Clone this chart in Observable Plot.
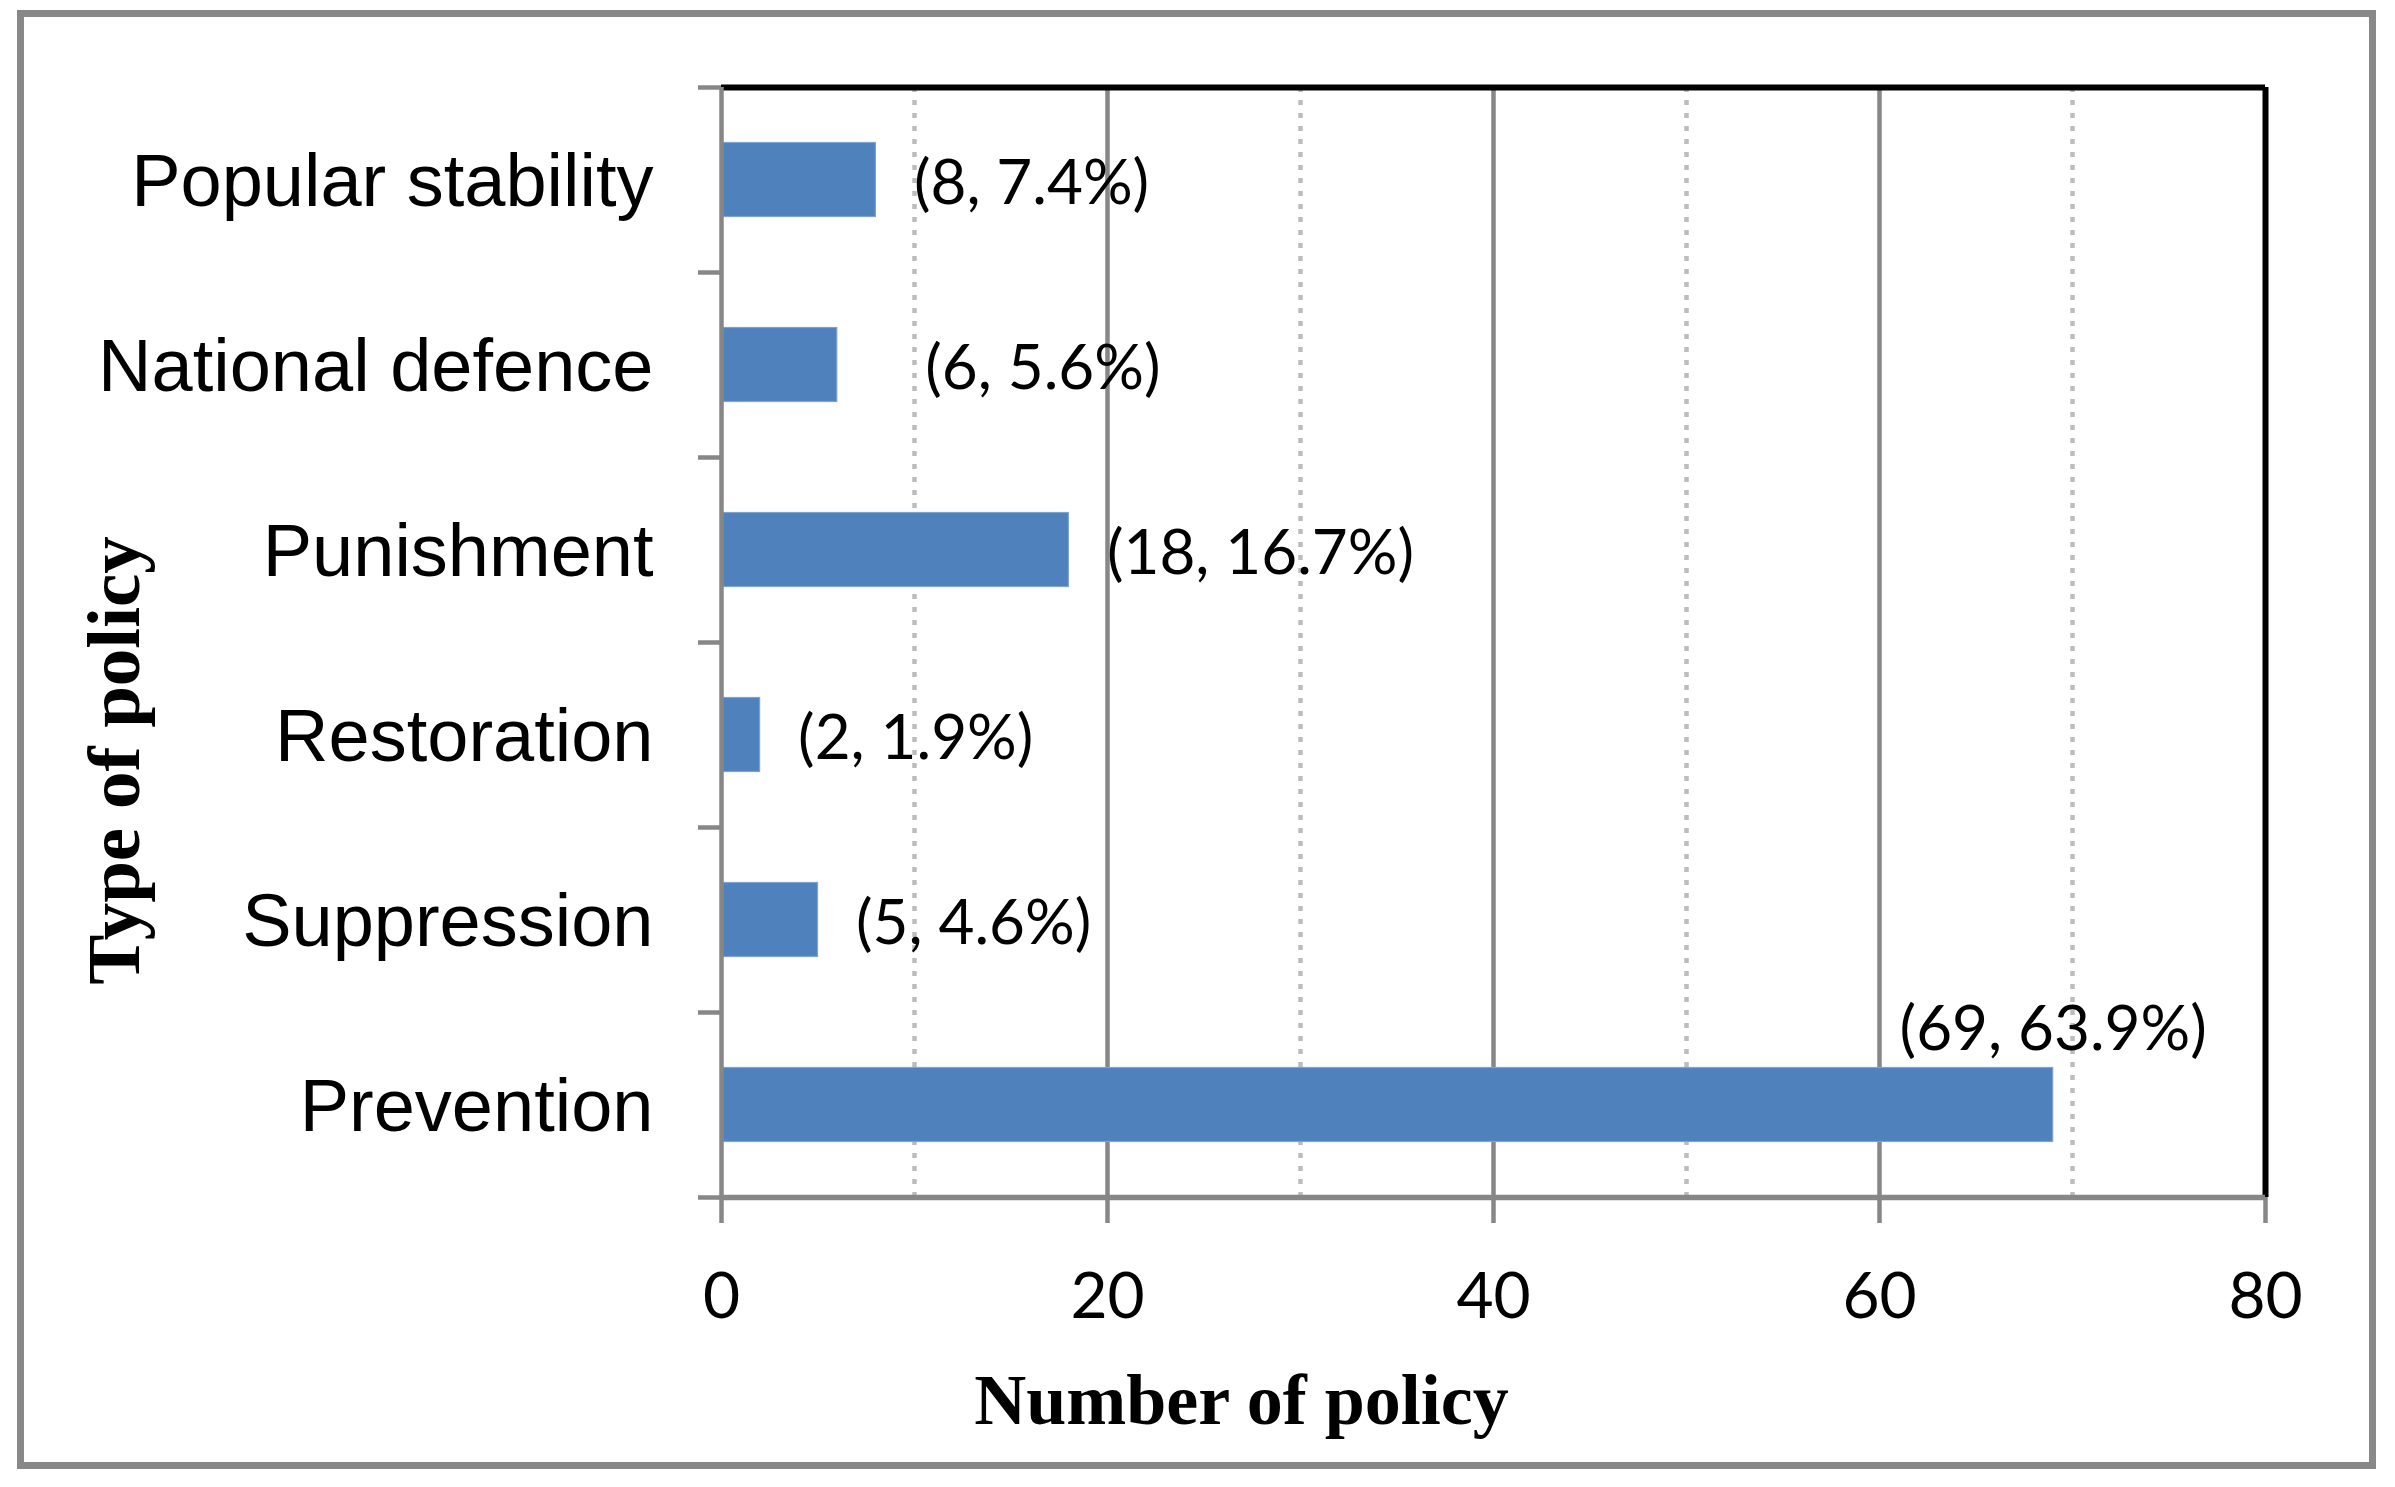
<!DOCTYPE html>
<html><head><meta charset="utf-8">
<script src="https://cdn.jsdelivr.net/npm/d3@7"></script>
<script src="https://cdn.jsdelivr.net/npm/@observablehq/plot@0.6"></script>
<style>
html,body{margin:0;padding:0;background:#fff;}
#wrap{position:relative;width:2395px;height:1487px;overflow:hidden;}
#border{position:absolute;left:17px;top:10px;width:2359px;height:1459px;border:7px solid #888;box-sizing:border-box;pointer-events:none;}
</style></head><body>
<div id="wrap"><div id="chart"></div><div id="border"></div></div>
<script>
// ---- data (bottom to top, as drawn) ----
const categories = ["Prevention", "Suppression", "Restoration", "Punishment", "National defence", "Popular stability"];
const counts = [69, 5, 2, 18, 6, 8];
const percents = [63.9, 4.6, 1.9, 16.7, 5.6, 7.4];
const xTicks = [0, 20, 40, 60, 80];
const majorGrid = [20, 40, 60];
const minorGrid = [10, 30, 50, 70];
const xTitle = "Number of policy";
const yTitle = "Type of policy";

const rows = categories.map((c, i) => ({
  cat: c, i, count: counts[i], pct: percents[i],
  label: `(${counts[i]}, ${percents[i].toFixed(1)}%)`
}));
const topLabel = rows.filter(d => d.cat === "Prevention");
const farLabel = rows.filter(d => d.cat === "National defence");
const nearLabels = rows.filter(d => d.cat !== "Prevention" && d.cat !== "National defence");

const gray = "#878787";
const labelFont = {fontFamily: "Lato", fontSize: 62, fill: "#000"};

const chart = Plot.plot({
  width: 2395, height: 1487,
  marginLeft: 721, marginRight: 130, marginTop: 87, marginBottom: 290,
  x: {domain: [0, 80], axis: null},
  y: {domain: [0, categories.length], axis: null},
  style: {fontFamily: "Lato", background: "transparent", overflow: "visible"},
  marks: [
    Plot.ruleX(minorGrid, {stroke: "#bdbdbd", strokeWidth: 4.5, strokeDasharray: "5,8"}),
    Plot.ruleX(majorGrid, {stroke: gray, strokeWidth: 4.5}),
    Plot.rect(rows, {x1: 0, x2: "count", y1: "i", y2: d => d.i + 1,
      insetTop: 55.5, insetBottom: 55.5, fill: "#4f81bd", stroke: "#7fa3cf", strokeWidth: 1.2}),
    Plot.ruleY([categories.length], {stroke: "#000", strokeWidth: 6}),
    Plot.ruleX([80], {stroke: "#000", strokeWidth: 6}),
    Plot.axisY(d3.range(0, categories.length + 1), {tickSize: 23, tickFormat: () => "", label: null, stroke: gray, strokeWidth: 4.5}),
    Plot.ruleX([0], {stroke: gray, strokeWidth: 4.5}),
    Plot.ruleY([0], {stroke: gray, strokeWidth: 5.5}),
    Plot.axisX(xTicks, {tickSize: 26, tickPadding: 49, label: null, fontSize: 64, fontFamily: "Lato", stroke: gray, strokeWidth: 4.5, fill: "#000"}),
    Plot.text(rows, {x: 0, y: d => d.i + 0.5, text: "cat", textAnchor: "end", dx: -68, dy: 2,
      fontFamily: "Liberation Sans", fontSize: 74, fill: "#000"}),
    Plot.text(nearLabels, {x: "count", y: d => d.i + 0.5, text: "label", textAnchor: "start", dx: 38, dy: 4, ...labelFont}),
    Plot.text(farLabel, {x: "count", y: d => d.i + 0.5, text: "label", textAnchor: "start", dx: 88, dy: 4, ...labelFont}),
    Plot.text(topLabel, {x: "count", y: d => d.i + 0.5, text: "label", textAnchor: "middle", dy: -75, ...labelFont}),
    Plot.text([xTitle], {frameAnchor: "bottom", text: d => d, textAnchor: "middle", lineAnchor: "bottom",
      dx: -252, dy: 226, fontFamily: "Liberation Serif", fontWeight: "bold", fontSize: 72, fill: "#000"}),
    Plot.text([yTitle], {frameAnchor: "left", text: d => d, textAnchor: "middle", lineAnchor: "bottom", rotate: -90,
      dx: -583, dy: 118, fontFamily: "Liberation Serif", fontWeight: "bold", fontSize: 75, fill: "#000"})
  ]
});
document.getElementById("chart").appendChild(chart);
</script>
</body></html>
